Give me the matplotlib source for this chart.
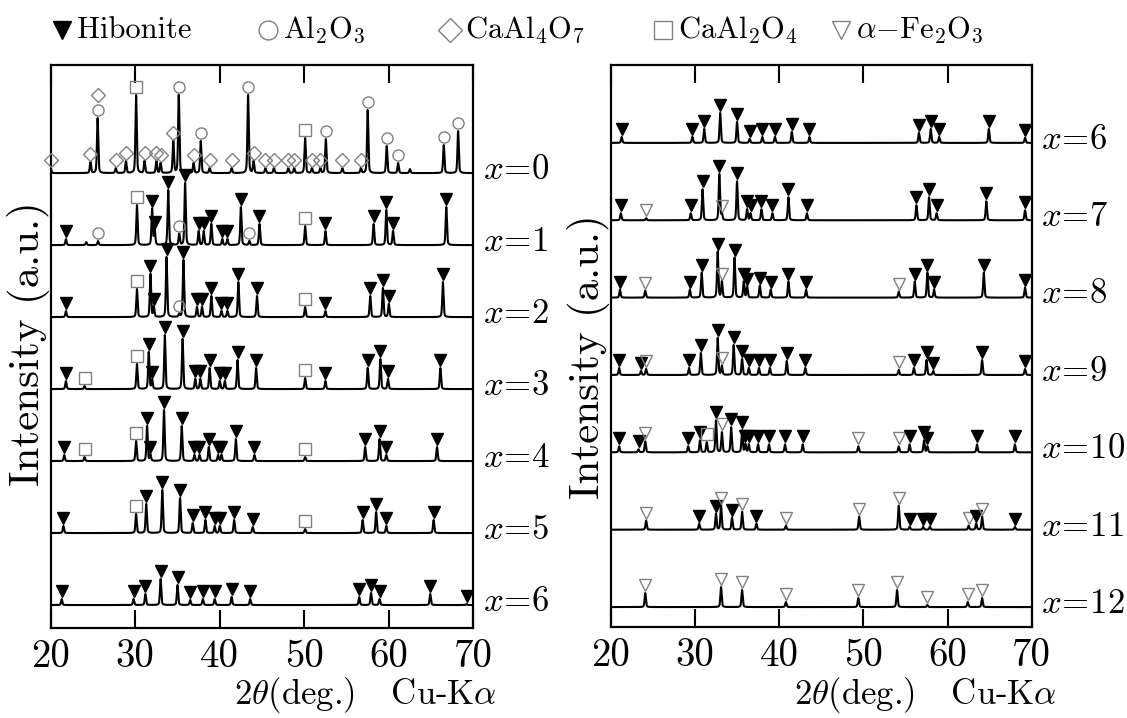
import numpy as np
import matplotlib.pyplot as plt
from matplotlib.lines import Line2D

plt.rcParams['font.family'] = 'cmr10'
plt.rcParams['mathtext.fontset'] = 'cm'
plt.rcParams['axes.unicode_minus'] = False

# peaks: (2theta, height, phase)  H=hibonite A=Al2O3 D=CaAl4O7 C=CaAl2O4 F=a-Fe2O3
peaks_x0 = [(20.0, 5, 'D'), (24.7, 11, 'D'), (25.55, 55, 'AD'), (27.7, 5, 'D'), (28.9, 12, 'D'),
            (30.1, 78, 'C'), (31.1, 12, 'D'), (32.5, 12, 'D'), (33.0, 10, 'D'), (34.5, 32, 'D'),
            (35.15, 78, 'A'), (36.9, 10, 'D'), (37.75, 32, 'A'), (38.8, 5, 'D'), (41.4, 5, 'D'),
            (43.35, 78, 'A'), (44.0, 12, 'D'), (45.4, 5, 'D'), (46.4, 5, 'D'), (48.1, 5, 'D'),
            (48.8, 5, 'D'), (50.1, 35, 'C'), (50.9, 5, 'D'), (51.9, 5, 'D'), (52.55, 34, 'A'),
            (54.5, 5, 'D'), (56.7, 5, 'D'), (57.5, 63, 'A'), (59.75, 27, 'A'), (61.1, 10, 'A'),
            (62.5, 4, ''), (66.5, 28, 'A'), (68.2, 42, 'A')]
peaks_x1 = [(21.8, 6, 'H'), (24.2, 3, ''), (25.6, 4, 'A'), (30.2, 40, 'C'), (32.0, 36, 'H'),
            (32.3, 15, 'H'), (33.9, 55, 'H'), (35.2, 11, 'A'), (35.9, 62, 'H'), (37.5, 14, 'H'),
            (38.1, 14, 'H'), (39.0, 21, 'H'), (40.3, 6, 'H'), (40.9, 6, 'H'), (42.5, 38, 'H'),
            (43.5, 4, 'A'), (44.7, 21, 'H'), (50.1, 19, 'C'), (52.5, 14, 'H'), (58.2, 21, 'H'),
            (59.7, 35, 'H'), (60.5, 14, 'H'), (66.8, 38, 'H')]
peaks_x2 = [(21.8, 6, 'H'), (30.2, 28, 'C'), (31.8, 43, 'H'), (32.2, 10, 'H'), (33.7, 60, 'H'),
            (35.2, 3, 'A'), (35.7, 57, 'H'), (37.3, 10, 'H'), (37.9, 10, 'H'), (39.0, 21, 'H'),
            (40.2, 6, 'H'), (40.9, 6, 'H'), (42.2, 35, 'H'), (44.4, 21, 'H'), (50.1, 10, 'C'),
            (52.5, 6, 'H'), (57.8, 21, 'H'), (59.3, 29, 'H'), (60.0, 13, 'H'), (66.4, 35, 'H')]
peaks_x3 = [(21.8, 8, 'H'), (24.0, 3, 'C'), (30.2, 25, 'C'), (31.6, 37, 'H'), (32.0, 9, 'H'),
            (33.5, 54, 'H'), (35.6, 50, 'H'), (37.1, 10, 'H'), (37.7, 10, 'H'), (38.8, 21, 'H'),
            (40.0, 8, 'H'), (40.6, 8, 'H'), (42.1, 29, 'H'), (44.3, 21, 'H'), (50.1, 11, 'C'),
            (52.5, 8, 'H'), (57.5, 21, 'H'), (59.0, 30, 'H'), (59.9, 10, 'H'), (66.1, 21, 'H')]
peaks_x4 = [(21.6, 6, 'H'), (24.0, 4, 'C'), (30.1, 20, 'C'), (31.4, 35, 'H'), (31.8, 6, 'H'),
            (33.4, 51, 'H'), (35.5, 35, 'H'), (37.0, 6, 'H'), (37.6, 6, 'H'), (38.7, 14, 'H'),
            (39.8, 6, 'H'), (40.2, 6, 'H'), (41.9, 22, 'H'), (44.1, 6, 'H'), (50.1, 4, 'C'),
            (57.2, 14, 'H'), (58.9, 22, 'H'), (59.7, 6, 'H'), (65.7, 14, 'H')]
peaks_x5 = [(21.5, 7, 'H'), (30.1, 19, 'C'), (31.3, 29, 'H'), (33.2, 43, 'H'), (35.3, 35, 'H'),
            (36.8, 10, 'H'), (38.3, 13, 'H'), (39.4, 7, 'H'), (40.0, 7, 'H'), (41.7, 13, 'H'),
            (43.9, 6, 'H'), (50.1, 4, 'C'), (56.9, 13, 'H'), (58.5, 21, 'H'), (59.7, 7, 'H'),
            (65.3, 13, 'H')]
peaks_x6a = [(21.3, 6, 'H'), (29.8, 6, 'H'), (31.2, 11, 'H'), (33.0, 26, 'H'), (35.0, 20, 'H'),
             (36.5, 5, 'H'), (38.0, 6, 'H'), (39.4, 6, 'H'), (41.4, 8, 'H'), (43.6, 6, 'H'),
             (56.5, 8, 'H'), (57.9, 12, 'H'), (58.9, 6, 'H'), (64.9, 11, 'H'), (69.2, 1, 'H')]
peaks_x6b = [(21.3, 6, 'H'), (29.7, 6, 'H'), (31.1, 14, 'H'), (33.0, 30, 'H'), (35.0, 21, 'H'),
             (36.5, 4, 'H'), (38.0, 6, 'H'), (39.5, 6, 'H'), (41.5, 11, 'H'), (43.6, 6, 'H'),
             (56.6, 10, 'H'), (58.0, 14, 'H'), (59.0, 6, 'H'), (64.9, 14, 'H'), (69.2, 5, 'H')]
peaks_x7 = [(21.2, 7, 'H'), (24.2, 2, 'F'), (29.5, 7, 'H'), (30.9, 31, 'H'), (32.9, 46, 'H'),
            (33.2, 6, 'F'), (35.0, 39, 'H'), (36.2, 11, 'H'), (36.6, 7, 'H'), (37.9, 11, 'H'),
            (39.2, 7, 'H'), (41.1, 23, 'H'), (43.3, 7, 'H'), (56.3, 15, 'H'), (57.8, 23, 'H'),
            (58.7, 7, 'H'), (64.6, 19, 'H'), (69.2, 10, 'H')]
peaks_x8 = [(21.1, 8, 'H'), (24.1, 7, 'F'), (29.4, 8, 'H'), (30.8, 25, 'H'), (32.7, 46, 'H'),
            (33.2, 16, 'F'), (34.7, 40, 'H'), (35.8, 16, 'H'), (36.2, 11, 'H'), (37.7, 12, 'H'),
            (39.0, 8, 'H'), (41.1, 16, 'H'), (43.2, 8, 'H'), (54.2, 6, 'F'), (56.1, 16, 'H'),
            (57.6, 25, 'H'), (58.4, 8, 'H'), (64.3, 25, 'H'), (69.2, 10, 'H')]
peaks_x9 = [(21.0, 7, 'H'), (23.6, 4, 'H'), (24.2, 6, 'F'), (29.3, 7, 'H'), (30.7, 22, 'H'),
            (32.7, 37, 'H'), (33.2, 9, 'F'), (34.6, 30, 'H'), (35.6, 16, 'H'), (36.4, 7, 'H'),
            (37.6, 7, 'H'), (38.9, 7, 'H'), (40.9, 14, 'H'), (43.1, 7, 'H'), (54.2, 5, 'F'),
            (56.0, 7, 'H'), (57.5, 15, 'H'), (58.3, 4, 'H'), (64.1, 15, 'H'), (69.2, 6, 'H')]
peaks_x10 = [(21.0, 6, 'H'), (23.3, 3, 'H'), (24.1, 11, 'F'), (29.2, 6, 'H'), (30.6, 12, 'H'),
             (31.4, 10, 'C'), (32.5, 32, 'H'), (33.2, 20, 'F'), (34.3, 25, 'H'), (35.6, 22, 'H'),
             (36.0, 8, 'H'), (36.4, 8, 'H'), (37.5, 8, 'H'), (38.8, 8, 'H'), (40.7, 8, 'H'),
             (42.8, 8, 'H'), (49.4, 6, 'F'), (54.2, 6, 'F'), (55.5, 8, 'H'), (57.2, 12, 'H'),
             (57.6, 6, 'H'), (63.5, 8, 'H'), (68.0, 8, 'H')]
peaks_x11 = [(24.2, 9, 'F'), (30.5, 6, 'H'), (32.5, 16, 'H'), (33.1, 24, 'F'), (34.4, 12, 'H'),
             (35.6, 18, 'F'), (37.3, 6, 'H'), (40.8, 4, 'F'), (49.5, 13, 'F'), (54.2, 24, 'F'),
             (55.5, 3, 'H'), (57.1, 3, 'H'), (57.9, 3, 'H'), (62.5, 4, 'F'), (63.4, 6, 'H'),
             (64.1, 13, 'F'), (68.0, 3, 'H')]
peaks_x12 = [(24.1, 14, 'F'), (33.1, 20, 'F'), (35.6, 17, 'F'), (40.8, 5, 'F'), (49.4, 9, 'F'),
             (54.0, 17, 'F'), (57.6, 2, 'F'), (62.4, 5, 'F'), (64.1, 9, 'F')]

left_labels = ['0', '1', '2', '3', '4', '5', '6']
left_sets = [peaks_x0, peaks_x1, peaks_x2, peaks_x3, peaks_x4, peaks_x5, peaks_x6a]
right_labels = ['6', '7', '8', '9', '10', '11', '12']
right_sets = [peaks_x6b, peaks_x7, peaks_x8, peaks_x9, peaks_x10, peaks_x11, peaks_x12]

legend_names = ['Hibonite', r'Al$_2$O$_3$', r'CaAl$_4$O$_7$', r'CaAl$_2$O$_4$', r'$\alpha$$-$Fe$_2$O$_3$']
legend_keys = ['H', 'A', 'D', 'C', 'F']

styles = {
    'H': dict(marker='v', color='k', ms=8),
    'A': dict(marker='o', mfc='none', mec='#808080', mew=1.0, ms=8),
    'D': dict(marker='D', mfc='none', mec='#808080', mew=1.0, ms=7),
    'C': dict(marker='s', mfc='none', mec='#808080', mew=1.0, ms=8),
    'F': dict(marker='v', mfc='none', mec='#808080', mew=1.0, ms=8),
}

tth = np.linspace(20, 70, 5001)


def profile(peaks):
    y = np.zeros_like(tth)
    for pos, h, ph in peaks:
        d = (tth - pos) / 0.18
        y += h * (0.6 * np.exp(-4 * np.log(2) * d ** 2) + 0.4 / (1 + 4 * d ** 2))
    return y


def draw(ax, sets, labels, top_base, step):
    for i, (peaks, lab) in enumerate(zip(sets, labels)):
        base = top_base - step * i
        ax.plot(tth, base + profile(peaks), color='k', lw=1.5, zorder=3)
        for pos, h, ph in peaks:
            for k, c in enumerate(ph):
                ax.plot(pos, base + h + 8 + 15 * k, ls='none', zorder=4, clip_on=False, **styles[c])
        ax.text(1.022, base + 3, r'$x\!=\!$' + lab, transform=ax.get_yaxis_transform(),
                ha='left', va='center', fontsize=25)
    ax.set_xlim(20, 70)
    ax.set_ylim(0, 563)
    ax.set_yticks([])
    ax.set_xticks([20, 30, 40, 50, 60, 70])
    ax.set_xticklabels(['20', '30', '40', '50', '60', '70'])
    ax.tick_params(axis='x', direction='in', top=True, length=13, width=1.5,
                   labelsize=28, pad=8)
    for s in ax.spines.values():
        s.set_linewidth(1.6)


fig = plt.figure(figsize=(11.27, 7.18), dpi=100)
ax1 = fig.add_axes([0.045, 0.1253, 0.375, 0.784])
ax2 = fig.add_axes([0.5419, 0.1267, 0.3736, 0.7827])
draw(ax1, left_sets, left_labels, 455, 72)
draw(ax2, right_sets, right_labels, 485, 77.5)

for xc in (365, 925):
    fig.text(xc / 1127, 1 - 704 / 718, r'$2\theta$(deg.)   Cu-K$\alpha$', ha='center', va='baseline',
             fontsize=25)
fig.text(29 / 1127, 1 - 344 / 718, 'Intensity (a.u.)', rotation=90, ha='center', va='center', fontsize=31)
fig.text(588 / 1127, 1 - 357 / 718, 'Intensity (a.u.)', rotation=90, ha='center', va='center', fontsize=31)

# legend row on top
mark_x = [62, 268, 450, 663, 841]
for mx, key, name in zip(mark_x, legend_keys, legend_names):
    st = dict(styles[key])
    st['ms'] = st['ms'] * 1.7
    fig.add_artist(Line2D([mx / 1127], [1 - 30 / 718], transform=fig.transFigure, ls='none', **st))
    fig.text((mx + 15) / 1127, 1 - 30 / 718, name, ha='left', va='center', fontsize=22)

fig.savefig('out.png', dpi=100)
